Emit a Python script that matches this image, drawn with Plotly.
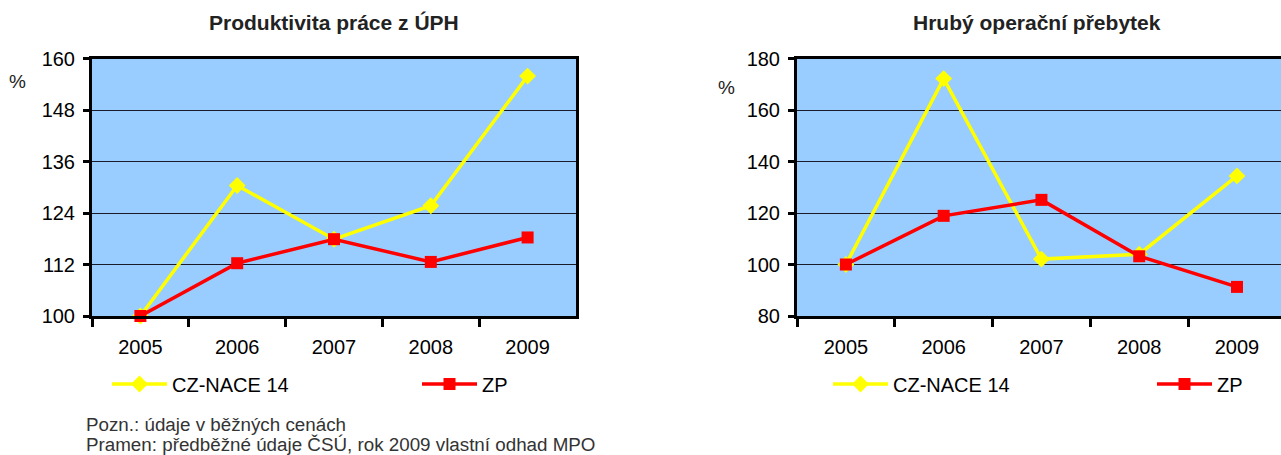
import plotly.graph_objects as go

years = ["2005", "2006", "2007", "2008", "2009"]
left_title = "Produktivita práce z ÚPH"
right_title = "Hrubý operační přebytek"
series_names = ["CZ-NACE 14", "ZP"]

prod_cz = [100.0, 130.4, 117.9, 125.7, 155.9]
prod_zp = [100.0, 112.3, 117.9, 112.6, 118.3]
hop_cz = [100.0, 172.2, 102.1, 104.0, 134.4]
hop_zp = [100.0, 118.9, 125.1, 103.2, 91.3]

left_ticks = [100, 112, 124, 136, 148, 160]
right_ticks = [80, 100, 120, 140, 160, 180]

note_lines = ["Pozn.: údaje v běžných cenách",
              "Pramen: předběžné údaje ČSÚ, rok 2009 vlastní odhad MPO"]

W, H = 1281, 455
FONT = "Liberation Sans, Arial, Helvetica, sans-serif"
YEL = "#FFFF00"
RED = "#FF0000"

fig = go.Figure()

def add_pair(cz, zp, xa, ya, leg_cz, leg_zp):
    fig.add_trace(go.Scatter(x=years, y=cz, name=series_names[0], mode="lines+markers",
                             line=dict(color=YEL, width=3.5),
                             marker=dict(symbol="diamond", size=13, color=YEL),
                             xaxis=xa, yaxis=ya, legend=leg_cz, cliponaxis=False))
    fig.add_trace(go.Scatter(x=years, y=zp, name=series_names[1], mode="lines+markers",
                             line=dict(color=RED, width=3.5),
                             marker=dict(symbol="square", size=12, color=RED),
                             xaxis=xa, yaxis=ya, legend=leg_zp, cliponaxis=False))

add_pair(prod_cz, prod_zp, "x", "y", "legend", "legend2")
add_pair(hop_cz, hop_zp, "x2", "y2", "legend3", "legend4")

ytop = 1 - 58.5 / H
ybot = 1 - 316 / H

xcommon = dict(type="category", tickson="boundaries", ticks="outside", ticklen=8,
               tickwidth=3, tickcolor="black", showline=True, linewidth=3,
               linecolor="black", showgrid=False, zeroline=False,
               tickfont=dict(size=20, color="black", family=FONT),
               ticklabelstandoff=11, fixedrange=True, automargin=False)
ycommon = dict(ticks="outside", ticklen=6, tickwidth=3, tickcolor="black",
               showline=True, linewidth=3, linecolor="black",
               showgrid=True, gridcolor="#1a1a2a", gridwidth=1, zeroline=False,
               tickfont=dict(size=20, color="black", family=FONT),
               ticklabelstandoff=4, fixedrange=True, automargin=False)

def leg(xpx):
    return dict(orientation="h", x=xpx / W, xanchor="left", y=1 - 384 / H, yanchor="middle",
                font=dict(size=20, color="black", family=FONT), itemwidth=55,
                bgcolor="rgba(0,0,0,0)", borderwidth=0)

fig.update_layout(
    width=W, height=H,
    margin=dict(l=0, r=0, t=0, b=0, autoexpand=False),
    paper_bgcolor="white",
    plot_bgcolor="#99CCFF",
    font=dict(family=FONT, color="black"),
    xaxis=dict(domain=[92 / W, 576 / W], anchor="y", mirror=True,
               range=[-0.5, 4.5], **xcommon),
    yaxis=dict(domain=[ybot, ytop], anchor="x", mirror=True,
               range=[100, 160], tickvals=left_ticks, **ycommon),
    xaxis2=dict(domain=[797 / W, 1.0], anchor="y2", mirror=True,
                range=[-0.5, 4.45], **xcommon),
    yaxis2=dict(domain=[ybot, ytop], anchor="x2", mirror=False,
                range=[80, 180], tickvals=right_ticks, **ycommon),
    legend=leg(107),
    legend2=leg(417),
    legend3=leg(828),
    legend4=leg(1152),
    showlegend=True,
    hovermode=False,
)

annotations = [
    dict(text="<b>" + left_title + "</b>", x=334 / W, y=1 - 22 / H, xref="paper", yref="paper",
         showarrow=False, font=dict(size=21, color="#222222", family=FONT), xanchor="center", yanchor="middle"),
    dict(text="<b>" + right_title + "</b>", x=1037 / W, y=1 - 22 / H, xref="paper", yref="paper",
         showarrow=False, font=dict(size=21, color="#222222", family=FONT), xanchor="center", yanchor="middle"),
    dict(text="%", x=17 / W, y=1 - 81 / H, xref="paper", yref="paper", showarrow=False,
         font=dict(size=19, color="#222222", family=FONT), xanchor="center", yanchor="middle"),
    dict(text="%", x=726 / W, y=1 - 87 / H, xref="paper", yref="paper", showarrow=False,
         font=dict(size=19, color="#222222", family=FONT), xanchor="center", yanchor="middle"),
]
for i, (line, ypx) in enumerate(zip(note_lines, [424, 444])):
    annotations.append(dict(text=line, x=84 / W, y=1 - ypx / H, xref="paper", yref="paper",
                            showarrow=False, align="left",
                            font=dict(size=18.8, color="#333333", family=FONT),
                            xanchor="left", yanchor="middle"))
fig.update_layout(annotations=annotations)

fig.write_html("out.html", config={"displayModeBar": False, "staticPlot": True},
               post_script="document.body.style.margin='0';document.body.style.overflow='hidden';")
